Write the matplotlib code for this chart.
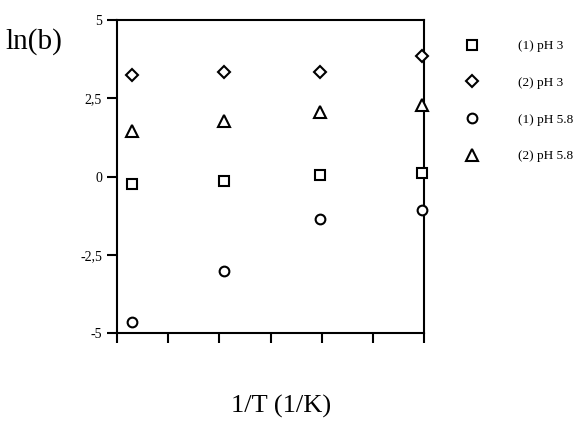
import matplotlib
matplotlib.use("Agg")
import matplotlib.pyplot as plt
from matplotlib.ticker import FixedLocator

plt.rcParams["font.family"] = ["Liberation Serif", "DejaVu Serif"]

# data (x in tick units, 1/T axis has no labels)
x = [0.30, 2.09, 3.97, 5.95]
ph3_1 = [-0.24, -0.14, 0.05, 0.13]
ph3_2 = [3.24, 3.35, 3.35, 3.86]
ph58_1 = [-4.65, -3.01, -1.35, -1.08]
ph58_2 = [1.47, 1.77, 2.07, 2.29]
labels = ["(1) pH 3", "(2) pH 3", "(1) pH 5.8", "(2) pH 5.8"]
yticks = [-5, -2.5, 0, 2.5, 5]
ytick_labels = ["-5", "-2,5", "0", "2,5", "5"]

fig = plt.figure(figsize=(5.84, 4.32), dpi=100)
ax = fig.add_axes([0.1998, 0.2285, 0.527, 0.7252])

series = [ph3_1, ph3_2, ph58_1, ph58_2]
markers = ["s", "D", "o", "^"]
sizes = [6.5, 6.0, 7.0, 8.0]
for ys, m, s, lab in zip(series, markers, sizes, labels):
    ax.plot(x, ys, linestyle="none", marker=m, markersize=s,
            markerfacecolor="white", markeredgecolor="black",
            markeredgewidth=1.5, label=lab, clip_on=False, zorder=3)

ax.set_xlim(0, 6)
ax.set_ylim(-5, 5)
ax.xaxis.set_major_locator(FixedLocator(range(7)))
ax.set_xticklabels([])
ax.set_yticks(yticks)
ax.set_yticklabels(ytick_labels, fontsize=10)
ax.tick_params(direction="out", length=7, width=1.5)
for sp in ax.spines.values():
    sp.set_linewidth(1.5)

fig.text(0.058, 0.903, "ln(b)", fontsize=21, ha="center", va="center")
fig.text(0.481, 0.058, "1/T (1/K)", fontsize=19, ha="center", va="center")

leg = ax.legend(loc="upper left", bbox_to_anchor=(0.776, 0.9346),
                bbox_transform=fig.transFigure, frameon=False,
                fontsize=9.5, handlelength=1.0, handletextpad=3.0,
                labelspacing=1.85, borderpad=0.4)

fig.savefig("out.png", dpi=100)
